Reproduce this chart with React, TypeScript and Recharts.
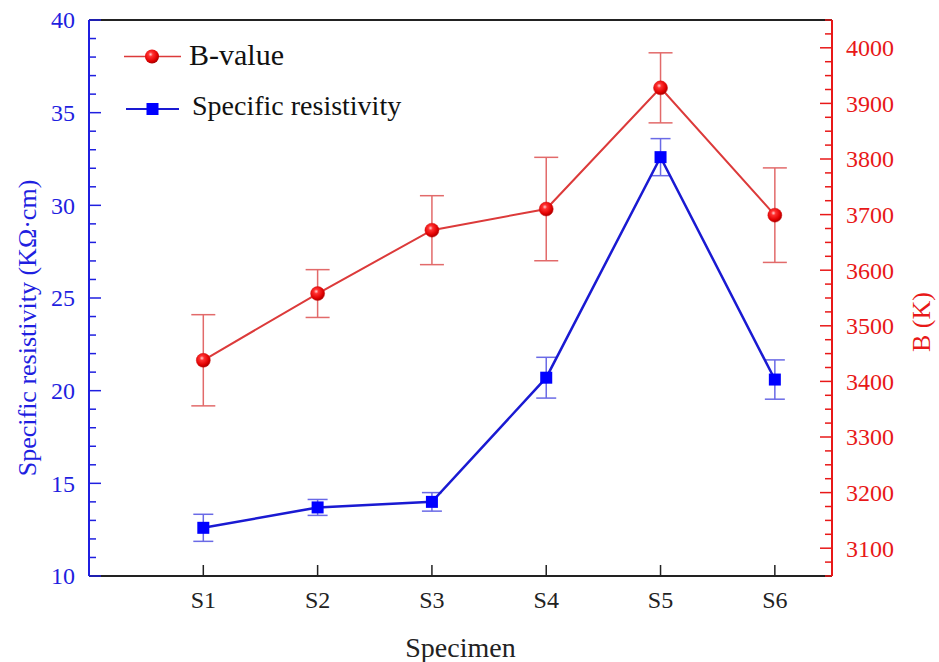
import React from 'react';
import { ComposedChart, Line, XAxis, YAxis, ErrorBar, ReferenceLine } from 'recharts';

// values
const SPECIMENS = ['S1', 'S2', 'S3', 'S4', 'S5', 'S6'];
const RESISTIVITY = [12.6, 13.7, 14.0, 20.7, 32.6, 20.6];
const RESISTIVITY_ERR = [0.73, 0.43, 0.5, 1.1, 1.0, 1.06];
const B_VALUE = [3438, 3558, 3672, 3710, 3928, 3699];
const B_ERR = [82, 43, 62, 93, 63, 85];

const X_TICKS = [1, 2, 3, 4, 5, 6];
const LEFT_MAJOR = [10, 15, 20, 25, 30, 35, 40];
const RIGHT_MAJOR = [3100, 3200, 3300, 3400, 3500, 3600, 3700, 3800, 3900, 4000];

const range = (from: number, to: number, step: number) => {
  const out: number[] = [];
  for (let v = from; v <= to; v += step) out.push(v);
  return out;
};
const LEFT_TICKS = range(10, 40, 1);
const RIGHT_TICKS = range(3050, 4050, 25);

const data = SPECIMENS.map((name, i) => ({
  x: i + 1,
  name,
  res: RESISTIVITY[i],
  resErr: RESISTIVITY_ERR[i],
  b: B_VALUE[i],
  bErr: B_ERR[i],
}));

const W = 939;
const H = 662;
const PLOT = { left: 89, right: 832, top: 20, bottom: 576 };
const FONT = '"Liberation Serif", "Times New Roman", serif';
const BLUE = '#1f1fe0';
const RED = '#e81818';
const BLUE_LINE = '#1a1ad2';
const RED_LINE = '#dc3a3a';

const LeftTick = (props: any) => {
  const { y, payload } = props;
  const major = LEFT_MAJOR.includes(payload.value);
  return (
    <g>
      <line x1={PLOT.left} x2={PLOT.left + (major ? 12 : 7)} y1={y} y2={y} stroke={BLUE} strokeWidth={1.5} />
      {major && (
        <text x={PLOT.left - 14} y={y} dy="0.35em" textAnchor="end" fill={BLUE} fontSize={24} fontFamily={FONT}>
          {payload.value}
        </text>
      )}
    </g>
  );
};

const RightTick = (props: any) => {
  const { y, payload } = props;
  const major = RIGHT_MAJOR.includes(payload.value);
  return (
    <g>
      <line x1={PLOT.right - (major ? 12 : 7)} x2={PLOT.right} y1={y} y2={y} stroke={RED} strokeWidth={1.5} />
      {major && (
        <text x={PLOT.right + 14} y={y} dy="0.35em" textAnchor="start" fill={RED} fontSize={24} fontFamily={FONT}>
          {payload.value}
        </text>
      )}
    </g>
  );
};

const BottomTick = (props: any) => {
  const { x, payload } = props;
  return (
    <g>
      <line x1={x} x2={x} y1={PLOT.bottom} y2={PLOT.bottom - 11} stroke="#222" strokeWidth={1.5} />
      <text x={x} y={PLOT.bottom + 32} textAnchor="middle" fill="#222" fontSize={24} fontFamily={FONT}>
        {SPECIMENS[payload.value - 1]}
      </text>
    </g>
  );
};

const Ball = (props: any) => {
  const { cx, cy, index } = props;
  if (cx == null || cy == null) return <g key={`b-${index}`} />;
  return <circle key={`b-${index}`} cx={cx} cy={cy} r={7} fill="url(#ballRed)" stroke="#d01010" strokeWidth={0.5} />;
};

const Square = (props: any) => {
  const { cx, cy, index } = props;
  if (cx == null || cy == null) return <g key={`s-${index}`} />;
  return <rect key={`s-${index}`} x={cx - 6} y={cy - 6} width={12} height={12} fill="#0000ff" />;
};

export default function App() {
  return (
    <div style={{ position: 'absolute', left: 0, top: 0, width: W, height: H, background: '#fff' }}>
      <ComposedChart width={W} height={H} data={data} margin={{ top: 20, right: 0, bottom: 0, left: 0 }}>
        <XAxis
          type="number"
          dataKey="x"
          domain={[0, 6.5]}
          ticks={X_TICKS}
          interval={0}
          height={86}
          tick={<BottomTick />}
          tickLine={false}
          axisLine={{ stroke: '#222', strokeWidth: 2 }}
          label={{ value: 'Specimen', position: 'center', dy: 28, fill: '#222', fontSize: 28, fontFamily: FONT }}
        />
        <YAxis
          yAxisId="left"
          orientation="left"
          domain={[10, 40]}
          ticks={LEFT_TICKS}
          interval={0}
          width={89}
          tick={<LeftTick />}
          tickLine={false}
          axisLine={{ stroke: BLUE, strokeWidth: 2 }}
          label={{
            value: 'Specific resistivity (KΩ·cm)',
            angle: -90,
            position: 'center',
            dx: -18,
            dy: 30,
            fill: BLUE,
            fontSize: 26,
            fontFamily: FONT,
          }}
        />
        <YAxis
          yAxisId="right"
          orientation="right"
          domain={[3050, 4050]}
          ticks={RIGHT_TICKS}
          interval={0}
          width={107}
          tick={<RightTick />}
          tickLine={false}
          axisLine={{ stroke: RED, strokeWidth: 2 }}
          label={{ value: 'B (K)', angle: -90, position: 'center', dx: 35, dy: 24, fill: RED, fontSize: 26, fontFamily: FONT }}
        />
        <ReferenceLine yAxisId="left" y={40} stroke="#222" strokeWidth={2} />
        <Line
          yAxisId="left"
          type="linear"
          dataKey="res"
          stroke={BLUE_LINE}
          strokeWidth={2.5}
          dot={Square}
          activeDot={false}
          isAnimationActive={false}
        >
          <ErrorBar dataKey="resErr" direction="y" width={10} stroke="#6a6ae6" strokeWidth={1.5} />
        </Line>
        <Line
          yAxisId="right"
          type="linear"
          dataKey="b"
          stroke={RED_LINE}
          strokeWidth={2}
          dot={Ball}
          activeDot={false}
          isAnimationActive={false}
        >
          <ErrorBar dataKey="bErr" direction="y" width={12} stroke="#e26a6a" strokeWidth={1.5} />
        </Line>
      </ComposedChart>
      <svg
        width={W}
        height={H}
        style={{ position: 'absolute', left: 0, top: 0, pointerEvents: 'none' }}
      >
        <defs>
          <radialGradient id="ballRed" cx="40%" cy="35%" r="65%">
            <stop offset="0%" stopColor="#ffd0d0" />
            <stop offset="25%" stopColor="#ff3030" />
            <stop offset="75%" stopColor="#e00000" />
            <stop offset="100%" stopColor="#a80000" />
          </radialGradient>
        </defs>
        <line x1={124} x2={181} y1={56.5} y2={56.5} stroke={RED_LINE} strokeWidth={1.5} />
        <circle cx={152} cy={56.5} r={7} fill="url(#ballRed)" />
        <text x={189} y={65} fontSize={30} fontFamily={FONT} fill="#111">
          B-value
        </text>
        <line x1={126} x2={179} y1={109} y2={109} stroke={BLUE_LINE} strokeWidth={2} />
        <rect x={146.5} y={103} width={12} height={12} fill="#0000ff" />
        <text x={192} y={115} fontSize={28} fontFamily={FONT} fill="#111">
          Specific resistivity
        </text>
      </svg>
    </div>
  );
}
